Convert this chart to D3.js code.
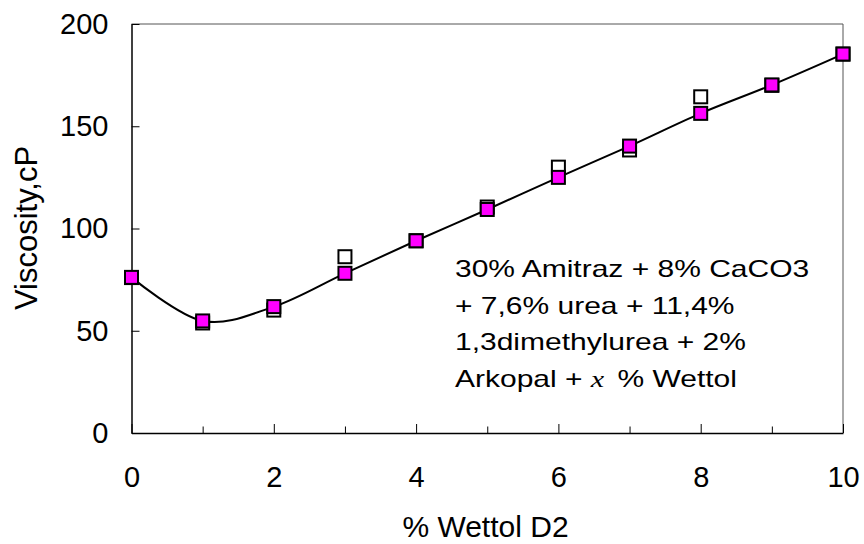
<!DOCTYPE html>
<html>
<head>
<meta charset="utf-8">
<script src="https://cdn.jsdelivr.net/npm/d3@7"></script>
<style>
  body { margin: 0; background: #fff; }
  svg { display: block; font-family: "Liberation Sans", Arial, sans-serif; }
</style>
</head>
<body>
<div id="chart"></div>
<script>
// data
const wettol = [0, 1, 2, 3, 4, 5, 6, 7, 8, 9, 10]
const viscosityOpen = [76, 53.8, 60.1, 86.2, 94, 110.5, 130, 138.4, 164.4, 170, 185.3]
const viscosityFilled = [76.1, 54.8, 61.8, 78.1, 94, 109.3, 125, 140.3, 156.3, 170.2, 185.3]
const xMajorTicks = [0, 2, 4, 6, 8, 10]
const xMinorTicks = [1, 3, 5, 7, 9]
const yTicks = [0, 50, 100, 150, 200]
const noteLines = ["30% Amitraz + 8% CaCO3", "+ 7,6% urea + 11,4%", "1,3dimethylurea + 2%"]

var width = 864
var height = 544
var margin = { top: 24, right: 21, bottom: 111, left: 131.5 }

const svg = d3.select("#chart").append("svg")
  .attr("width", width)
  .attr("height", height)

const x = d3.scaleLinear().domain([0, 10]).range([margin.left, width - margin.right])
const y = d3.scaleLinear().domain([0, 200]).range([height - margin.bottom, margin.top])

// top and right frame lines (grey)
svg.append("path")
  .attr("d", `M${x(0)},${y(200)}H${x(10)}V${y(0)}`)
  .attr("fill", "none")
  .attr("stroke", "#555")
  .attr("stroke-width", 1)

// y axis, ticks pointing inward
const yAxis = svg.append("g")
  .attr("transform", `translate(${margin.left},0)`)
  .call(d3.axisLeft(y).tickValues(yTicks).tickSize(-8).tickPadding(23).tickSizeOuter(0))
yAxis.select(".domain").attr("stroke", "#000").attr("stroke-width", 1.5)
yAxis.selectAll(".tick line").attr("stroke", "#000")
yAxis.selectAll("text").attr("font-size", 29).attr("fill", "#000")
  .attr("font-family", "Liberation Sans, Arial, sans-serif")

// x axis, major ticks with labels
const xAxis = svg.append("g")
  .attr("transform", `translate(0,${height - margin.bottom})`)
  .call(d3.axisBottom(x).tickValues(xMajorTicks).tickSize(-9).tickPadding(33).tickSizeOuter(0))
xAxis.select(".domain").attr("stroke", "#000").attr("stroke-width", 1.5)
xAxis.selectAll(".tick line").attr("stroke", "#000")
xAxis.selectAll("text").attr("font-size", 29).attr("fill", "#000")
  .attr("font-family", "Liberation Sans, Arial, sans-serif")

// minor x ticks
svg.append("g")
  .attr("transform", `translate(0,${height - margin.bottom})`)
  .call(d3.axisBottom(x).tickValues(xMinorTicks).tickSize(-6.5).tickFormat(""))
  .call(g => g.select(".domain").remove())
  .selectAll(".tick line").attr("stroke", "#000")

// axis titles
svg.append("text")
  .attr("x", 485.5)
  .attr("y", 537)
  .attr("text-anchor", "middle")
  .attr("font-size", 30)
  .text("% Wettol D2")

svg.append("text")
  .attr("transform", "translate(37,228) rotate(-90)")
  .attr("text-anchor", "middle")
  .attr("font-size", 31)
  .text("Viscosity,cP")

const sq = 13

// open squares first
svg.append("g")
  .selectAll("rect")
  .data(wettol)
  .join("rect")
  .attr("x", (d, i) => x(d) - sq / 2)
  .attr("y", (d, i) => y(viscosityOpen[i]) - sq / 2)
  .attr("width", sq)
  .attr("height", sq)
  .attr("fill", "#fff")
  .attr("stroke", "#000")
  .attr("stroke-width", 2)

// smoothed line through the filled series
const line = d3.line()
  .x((d, i) => x(d))
  .y((d, i) => y(viscosityFilled[i]))
  .curve(d3.curveCardinal.tension(0))

svg.append("path")
  .attr("d", line(wettol))
  .attr("fill", "none")
  .attr("stroke", "#000")
  .attr("stroke-width", 2)

// filled magenta squares on top
svg.append("g")
  .selectAll("rect")
  .data(wettol)
  .join("rect")
  .attr("x", (d, i) => x(d) - sq / 2)
  .attr("y", (d, i) => y(viscosityFilled[i]) - sq / 2)
  .attr("width", sq)
  .attr("height", sq)
  .attr("fill", "#ff00ff")
  .attr("stroke", "#000")
  .attr("stroke-width", 2)

// the composition note, text looks stretched sideways
const note = svg.append("g")
  .attr("transform", "translate(455,0) scale(1.25,1)")
  .attr("font-size", 24)

note.selectAll("text.line")
  .data(noteLines)
  .join("text")
  .attr("class", "line")
  .attr("x", 0)
  .attr("y", (d, i) => 277 + i * 36.7)
  .text(d => d)

const last = note.append("text")
  .attr("x", 0)
  .attr("y", 277 + 3 * 36.7)
last.append("tspan").text("Arkopal + ")
last.append("tspan")
  .attr("font-family", "Liberation Serif, Times New Roman, serif")
  .attr("font-style", "italic")
  .text("x")
last.append("tspan").attr("dx", 4).text(" % Wettol")
</script>
</body>
</html>
